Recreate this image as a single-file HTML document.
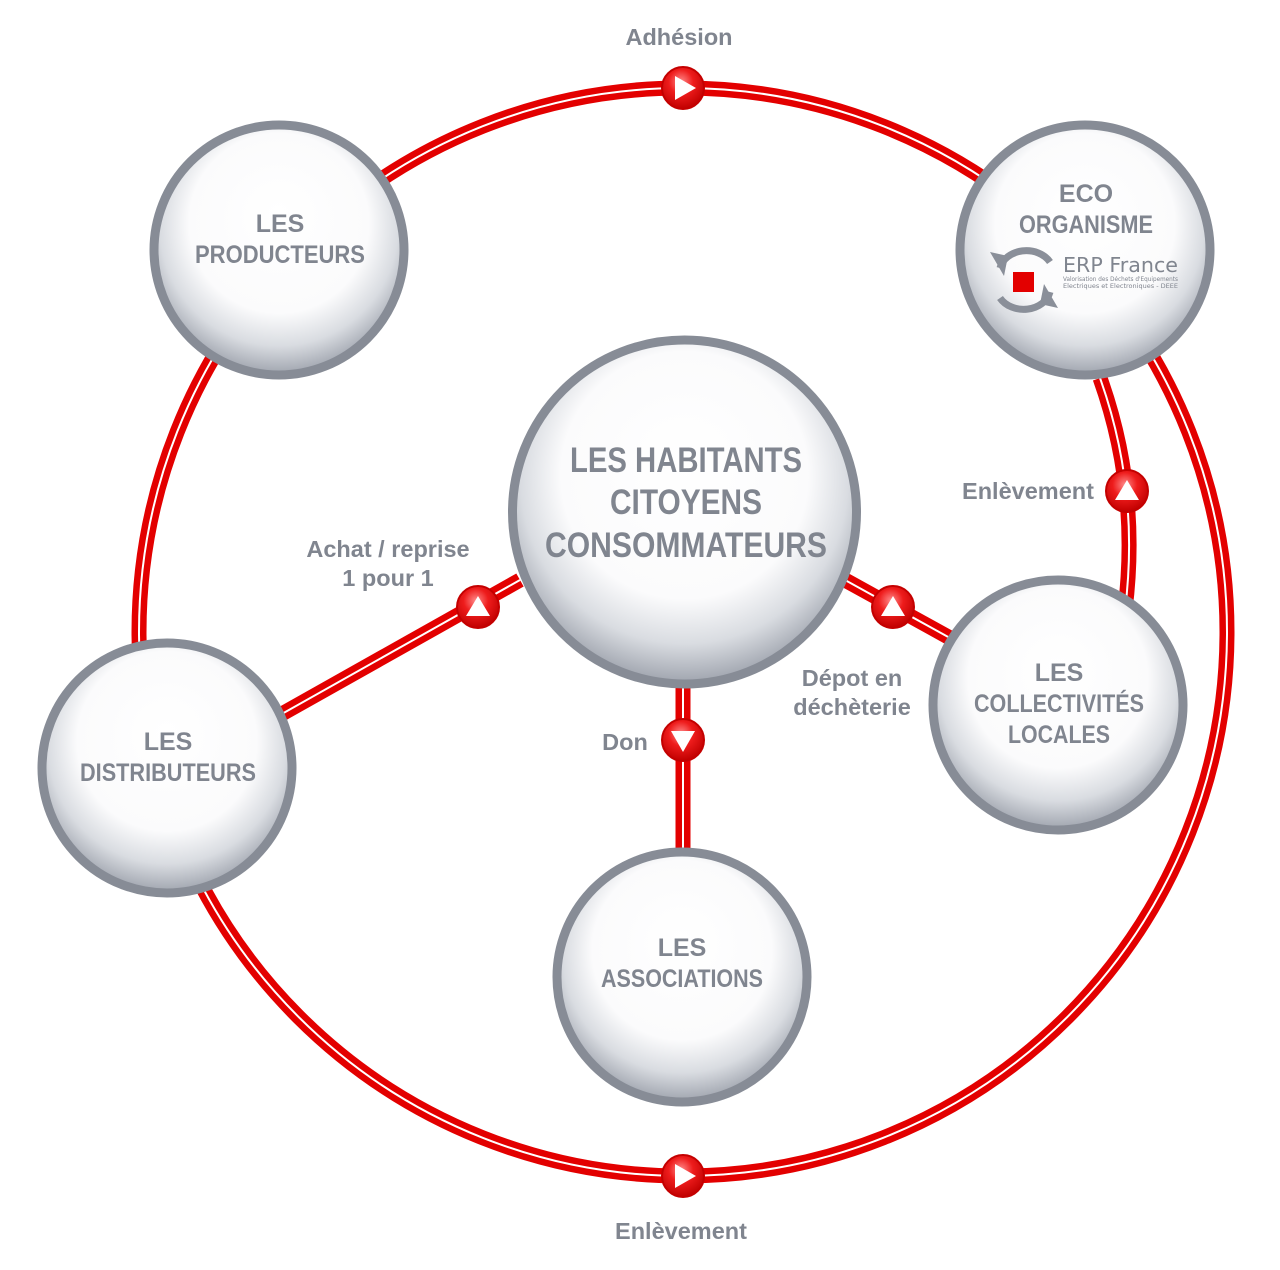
<!DOCTYPE html>
<html><head><meta charset="utf-8"><style>
html,body{margin:0;padding:0;background:#fff;width:1280px;height:1270px;overflow:hidden}
svg{display:block}
text{font-family:"Liberation Sans Narrow","Liberation Sans",Arial,sans-serif;font-weight:bold;fill:#80858f;text-anchor:middle}
.lb{font-family:"Liberation Sans",Arial,sans-serif;font-size:23.5px}
</style></head><body>
<svg width="1280" height="1270" viewBox="0 0 1280 1270" xmlns="http://www.w3.org/2000/svg">
<defs>
<radialGradient id="g" cx="50%" cy="42%" r="58%" fx="50%" fy="35%">
<stop offset="0" stop-color="#ffffff"/>
<stop offset="0.62" stop-color="#fbfbfc"/>
<stop offset="0.82" stop-color="#d9dce1"/>
<stop offset="1" stop-color="#9ea3ad"/>
</radialGradient>
<radialGradient id="m" cx="45%" cy="35%" r="65%">
<stop offset="0" stop-color="#ff8a8a"/>
<stop offset="0.45" stop-color="#ee1c1c"/>
<stop offset="1" stop-color="#c00000"/>
</radialGradient>
</defs>
<g fill="none" stroke-linecap="butt">
<g stroke="#e30000" stroke-width="15">
<circle cx="683" cy="632" r="544"/>
<path d="M1100 378 Q1140 490 1125 610"/>
<line x1="520" y1="580" x2="280" y2="715"/>
<line x1="845" y1="580" x2="950" y2="638"/>
<line x1="683" y1="685" x2="683" y2="855"/>
</g>
<g stroke="#fff" stroke-width="2">
<circle cx="683" cy="632" r="544"/>
<path d="M1100 378 Q1140 490 1125 610"/>
<line x1="520" y1="580" x2="280" y2="715"/>
<line x1="845" y1="580" x2="950" y2="638"/>
<line x1="683" y1="685" x2="683" y2="855"/>
</g>
</g>
<g stroke="#878c96" stroke-width="9" fill="url(#g)">
<circle cx="279" cy="250" r="125"/>
<circle cx="1085" cy="250" r="125"/>
<circle cx="684.5" cy="512" r="172"/>
<circle cx="167" cy="768" r="125"/>
<circle cx="682" cy="977" r="125"/>
<circle cx="1058" cy="705" r="125"/>
</g>
<g stroke="#c40000" stroke-width="2" fill="url(#m)">
<circle cx="683" cy="88" r="21"/>
<circle cx="683" cy="1176" r="21"/>
<circle cx="1127" cy="491" r="21"/>
<circle cx="478" cy="607" r="21"/>
<circle cx="893" cy="607" r="21"/>
<circle cx="683" cy="740" r="21"/>
</g>
<g fill="#fff">
<polygon points="675,76 675,100 696,88"/>
<polygon points="675,1164 675,1188 696,1176"/>
<polygon points="1127,480 1115,500 1139,500"/>
<polygon points="478,596 466,616 490,616"/>
<polygon points="893,596 881,616 905,616"/>
<polygon points="671,731 695,731 683,752"/>
</g>
<g font-size="25">
<text x="280" y="232">LES</text>
<text x="280" y="263" textLength="170" lengthAdjust="spacingAndGlyphs">PRODUCTEURS</text>
<text x="1086" y="202">ECO</text>
<text x="1086" y="233" textLength="134" lengthAdjust="spacingAndGlyphs">ORGANISME</text>
<text x="168" y="750">LES</text>
<text x="168" y="781" textLength="176" lengthAdjust="spacingAndGlyphs">DISTRIBUTEURS</text>
<text x="682" y="956">LES</text>
<text x="682" y="987" textLength="162" lengthAdjust="spacingAndGlyphs">ASSOCIATIONS</text>
<text x="1059" y="681">LES</text>
<text x="1059" y="712" textLength="170" lengthAdjust="spacingAndGlyphs">COLLECTIVITÉS</text>
<text x="1059" y="743" textLength="102" lengthAdjust="spacingAndGlyphs">LOCALES</text>
</g>
<g font-size="35">
<text x="686" y="472" textLength="232" lengthAdjust="spacingAndGlyphs">LES HABITANTS</text>
<text x="686" y="514" textLength="152" lengthAdjust="spacingAndGlyphs">CITOYENS</text>
<text x="686" y="557" textLength="282" lengthAdjust="spacingAndGlyphs">CONSOMMATEURS</text>
</g>
<g fill="none" stroke="#8a8f99" stroke-width="7">
<path d="M1000 268 A27 22 0 0 1 1050 262"/>
<path d="M1050 292 A27 22 0 0 1 1000 298"/>
</g>
<polygon points="990,252 1004,276 1008,256" fill="#8a8f99"/>
<polygon points="1058,308 1044,284 1040,304" fill="#8a8f99"/>
<rect x="1013" y="272" width="21" height="20" fill="#e30000"/>
<text x="1063" y="272" style="font-family:'DejaVu Sans',sans-serif;font-weight:normal;text-anchor:start" font-size="20" textLength="115" lengthAdjust="spacingAndGlyphs">ERP France</text>
<text x="1063" y="281" style="font-family:'DejaVu Sans',sans-serif;font-weight:normal;text-anchor:start" font-size="6" textLength="115" lengthAdjust="spacingAndGlyphs">Valorisation des Déchets d'Equipements</text>
<text x="1063" y="288" style="font-family:'DejaVu Sans',sans-serif;font-weight:normal;text-anchor:start" font-size="6" textLength="115" lengthAdjust="spacingAndGlyphs">Electriques et Electroniques - DEEE</text>
<g>
<text class="lb" x="679" y="45">Adhésion</text>
<text class="lb" x="681" y="1239">Enlèvement</text>
<text class="lb" x="1028" y="499">Enlèvement</text>
<text class="lb" x="388" y="557">Achat / reprise</text>
<text class="lb" x="388" y="586">1 pour 1</text>
<text class="lb" x="852" y="686">Dépot en</text>
<text class="lb" x="852" y="715">déchèterie</text>
<text class="lb" x="625" y="750">Don</text>
</g>
</svg>
</body></html>
